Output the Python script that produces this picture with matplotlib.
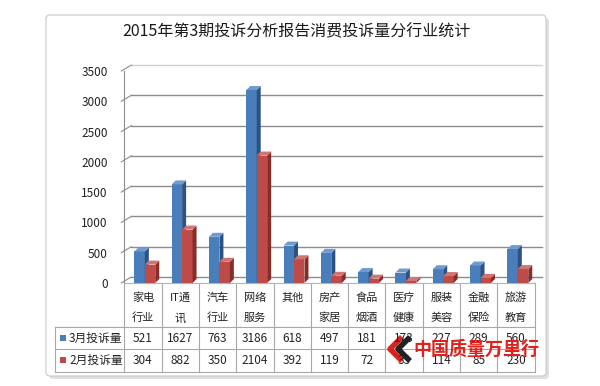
import matplotlib
matplotlib.use("Agg")
import matplotlib.pyplot as plt
import matplotlib.transforms as mtrans
from matplotlib.patches import Polygon, FancyBboxPatch, Rectangle

plt.rcParams['font.family'] = ['Noto Sans CJK SC', 'DejaVu Sans']

# data
categories = [('家电', '行业'), ('IT通', '讯'), ('汽车', '行业'), ('网络', '服务'), ('其他', ''),
              ('房产', '家居'), ('食品', '烟酒'), ('医疗', '健康'), ('服装', '美容'), ('金融', '保险'),
              ('旅游', '教育')]
march = [521, 1627, 763, 3186, 618, 497, 181, 173, 227, 289, 560]
feb = [304, 882, 350, 2104, 392, 119, 72, 33, 114, 85, 230]
series_names = ['3月投诉量', '2月投诉量']
yticks = [0, 500, 1000, 1500, 2000, 2500, 3000, 3500]
title = '2015年第3期投诉分析报告消费投诉量分行业统计'

W, H = 600, 386
fig = plt.figure(figsize=(6, 3.86), dpi=100)

# overlay in pixel coords for panel, table, title
ov = fig.add_axes([0, 0, 1, 1], zorder=0)
ov.set_xlim(0, W)
ov.set_ylim(H, 0)
ov.axis('off')

ov.add_patch(FancyBboxPatch((49, 18), 500, 361, boxstyle='round,pad=0,rounding_size=4',
                            fc='#d9d9d9', ec='none', alpha=0.8))
ov.add_patch(FancyBboxPatch((46, 15), 500, 361, boxstyle='round,pad=0,rounding_size=4',
                            fc='white', ec='#c8c8c8', lw=0.8))
ov.text(296, 32, title, ha='center', va='center', fontsize=11.5, color='#1a1a1a')

# plot region (front plane)
x0, x1 = 124.3, 534.6
ytop, ybot = 71, 283
ax = fig.add_axes([x0 / W, (H - ybot) / H, (x1 - x0) / W, (ybot - ytop) / H], zorder=1)
ax.set_xlim(-0.5, len(categories) - 0.5)
ax.set_ylim(0, 3500)
ax.patch.set_alpha(0)
for s in ax.spines.values():
    s.set_visible(False)
ax.set_xticks([])
ax.set_yticks(yticks)
ax.set_yticklabels([str(v) for v in yticks], fontsize=8.5, color='#222222')
ax.tick_params(axis='y', length=0, pad=12)

# depth offsets
back = ax.transData + mtrans.ScaledTranslation(0.07, 0.06, fig.dpi_scale_trans)
px_x = (x1 - x0) / len(categories)
px_y = (ybot - ytop) / 3500.0
ddx, ddy = 4 / px_x, 4 / px_y

grid_c = '#8c8c8c'
xl, xr = -0.5, len(categories) - 0.5
for v in yticks:
    c = '#cfcfcf' if v == yticks[-1] else grid_c
    ax.plot([xl, xr], [v, v], color=c, lw=1, transform=back, zorder=1, clip_on=False)
    # diagonal tick from front to back
    p0 = ax.transData.transform((xl, v))
    p1 = back.transform((xl, v))
    ax.plot([p0[0] - 3, p1[0]], [p0[1], p1[1]], color=grid_c, lw=0.8,
            transform=None, zorder=1, clip_on=False)
ax.plot([xl, xl], [0, 3500], color=grid_c, lw=0.8, zorder=1, clip_on=False)
ax.plot([xl, xr], [0, 0], color='#b5b5b5', lw=0.8, zorder=1, clip_on=False)
p0 = ax.transData.transform((xr, 0))
p1 = back.transform((xr, 0))
ax.plot([p0[0], p1[0]], [p0[1], p1[1]], color='#b5b5b5', lw=0.8, transform=None, zorder=1)

bw = 0.28
shift = 0.05
styles = [('#4A7EBB', '#2C5282', '#709BD2'), ('#BE4B48', '#862E2C', '#D27471')]
z = 3
for i in range(len(categories)):
    for k, vals in enumerate([march, feb]):
        front, side, top = styles[k]
        h = vals[i]
        xa = i + shift - bw + k * bw
        xb = xa + bw
        ax.bar(xa, h, width=bw, align='edge', color=front, zorder=z)
        ax.add_patch(Polygon([(xb, 0), (xb, h), (xb + ddx, h + ddy), (xb + ddx, ddy)],
                             closed=True, fc=side, ec='none', zorder=z, clip_on=False))
        ax.add_patch(Polygon([(xa, h), (xb, h), (xb + ddx, h + ddy), (xa + ddx, h + ddy)],
                             closed=True, fc=top, ec='none', zorder=z, clip_on=False))
        z += 1

# data table
line_c = '#a8a8a8'
cw = px_x
r0, r1, r2, r3 = 283, 327, 349, 372
tl = 55
for i in range(len(categories) + 1):
    xx = x0 + i * cw
    ov.plot([xx, xx], [r0, r3], color=line_c, lw=0.8)
ov.plot([tl, tl], [r1, r3], color=line_c, lw=0.8)
for yy in (r1, r2, r3):
    ov.plot([tl, x1], [yy, yy], color=line_c, lw=0.8)

for i, (a, b) in enumerate(categories):
    cx = x0 + (i + 0.5) * cw
    ov.text(cx, 298, a, ha='center', va='center', fontsize=8, color='#222222')
    if b:
        ov.text(cx, 318, b, ha='center', va='center', fontsize=8, color='#222222')
    ov.text(cx, 338, str(march[i]), ha='center', va='center', fontsize=8.5, color='#222222')
    ov.text(cx, 360, str(feb[i]), ha='center', va='center', fontsize=8.5, color='#222222')

for k, (name, yy) in enumerate(zip(series_names, (338, 360))):
    ov.add_patch(Rectangle((59.5, yy - 3.5), 6, 6, fc=styles[k][0], ec='none'))
    ov.text(69, yy, name, ha='left', va='center', fontsize=8.5, color='#222222')

# watermark
ov.plot([402, 390, 402], [337, 349, 361], color='#d8231f', lw=4, solid_capstyle='butt')
ov.plot([410, 398, 410], [337, 349, 361], color='#222222', lw=4, solid_capstyle='butt')
ov.text(476, 349, '中国质量万里行', ha='center', va='center', fontsize=13,
        color='#e0201b', fontweight='bold', style='italic', zorder=5)

fig.savefig('out.png', dpi=100)
